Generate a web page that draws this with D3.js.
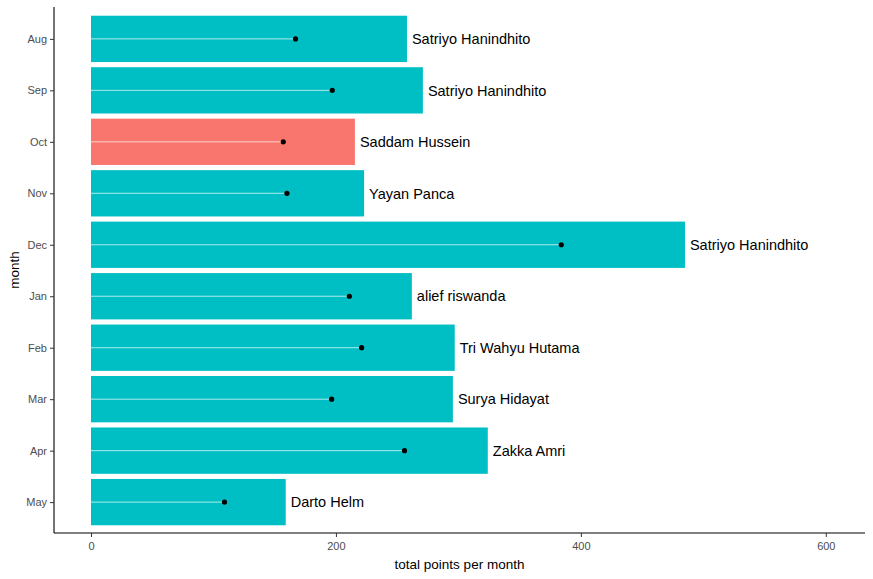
<!DOCTYPE html>
<html lang="en">
<head>
<meta charset="UTF-8">
<title>Total points per month</title>
<script src="https://d3js.org/d3.v7.min.js"></script>
<style>
    body { margin: 0; background: #fff; }
    text { font-family: "Liberation Sans", Arial, sans-serif; }
</style>
</head>
<body>
<div id="chart"></div>
<script>
    // data
    const months = ["Aug", "Sep", "Oct", "Nov", "Dec", "Jan", "Feb", "Mar", "Apr", "May"];
    const totals = [258, 271, 215.5, 223, 485, 262, 297, 295.5, 324, 159];
    const averages = [167, 197, 157, 160, 384, 211, 221, 196.5, 256, 109];
    const topNames = ["Satriyo Hanindhito", "Satriyo Hanindhito", "Saddam Hussein", "Yayan Panca",
        "Satriyo Hanindhito", "alief riswanda", "Tri Wahyu Hutama", "Surya Hidayat", "Zakka Amri", "Darto Helm"];
    const highlight = ["Oct"];
    const xTicks = [0, 200, 400, 600];

    const width = 873, height = 579;
    const margin = { top: 7, right: 8, bottom: 46, left: 54 };

    const svg = d3.select("#chart").append("svg")
        .attr("width", width)
        .attr("height", height);

    const x = d3.scaleLinear()
        .domain([-30.2, 632])
        .range([margin.left, width - margin.right]);

    // ggplot style discrete axis: 0.6 step padding on each end
    const step = (height - margin.bottom - margin.top - 1) / (months.length - 1 + 1.2);
    const y = d3.scalePoint()
        .domain(months)
        .range([margin.top + 1 + 0.6 * step, height - margin.bottom - 0.6 * step]);
    const barH = step * 0.9;

    const rows = months.map((m, i) => ({ month: m, total: totals[i], avg: averages[i], name: topNames[i] }));

    const g = svg.append("g");

    g.selectAll("rect.bar")
        .data(rows)
        .join("rect")
        .attr("class", "bar")
        .attr("x", x(0))
        .attr("y", d => y(d.month) - barH / 2)
        .attr("width", d => x(d.total) - x(0))
        .attr("height", barH)
        .attr("fill", d => highlight.includes(d.month) ? "#F8766D" : "#00BFC4");

    g.selectAll("line.seg")
        .data(rows)
        .join("line")
        .attr("class", "seg")
        .attr("x1", x(0))
        .attr("x2", d => x(d.avg))
        .attr("y1", d => y(d.month))
        .attr("y2", d => y(d.month))
        .attr("stroke", "#ffffff")
        .attr("stroke-opacity", 0.85)
        .attr("stroke-width", 0.8);

    g.selectAll("circle.pt")
        .data(rows)
        .join("circle")
        .attr("class", "pt")
        .attr("cx", d => x(d.avg))
        .attr("cy", d => y(d.month))
        .attr("r", 2.6)
        .attr("fill", "#000");

    g.selectAll("text.lbl")
        .data(rows)
        .join("text")
        .attr("class", "lbl")
        .attr("x", d => x(d.total) + 5)
        .attr("y", d => y(d.month))
        .attr("dy", "0.36em")
        .attr("font-size", 14.5)
        .attr("fill", "#000")
        .text(d => d.name);

    // axes
    const xAxis = svg.append("g")
        .attr("transform", `translate(0,${height - margin.bottom})`)
        .call(d3.axisBottom(x).tickValues(xTicks).tickSize(4).tickPadding(5));
    const yAxis = svg.append("g")
        .attr("transform", `translate(${margin.left},0)`)
        .call(d3.axisLeft(y).tickSize(4).tickPadding(3));

    [xAxis, yAxis].forEach(a => {
        a.select(".domain").attr("stroke", "#000").attr("stroke-width", 1.1);
        a.selectAll(".tick line").attr("stroke", "#333");
        a.selectAll(".tick text").attr("fill", "#4d4d4d").attr("font-size", 11)
            .style("font-family", "'Liberation Sans', Arial, sans-serif");
    });
    yAxis.select(".domain").attr("d", `M0,${margin.top}V${height - margin.bottom}`);
    xAxis.select(".domain").attr("d", `M${margin.left},0H${width - margin.right}`);

    svg.append("text")
        .attr("x", (margin.left + width - margin.right) / 2)
        .attr("y", height - 10)
        .attr("text-anchor", "middle")
        .attr("font-size", 13.5)
        .attr("fill", "#000")
        .text("total points per month");

    svg.append("text")
        .attr("transform", `translate(19,${(margin.top + height - margin.bottom) / 2}) rotate(-90)`)
        .attr("text-anchor", "middle")
        .attr("font-size", 13.5)
        .attr("fill", "#000")
        .text("month");
</script>
</body>
</html>
